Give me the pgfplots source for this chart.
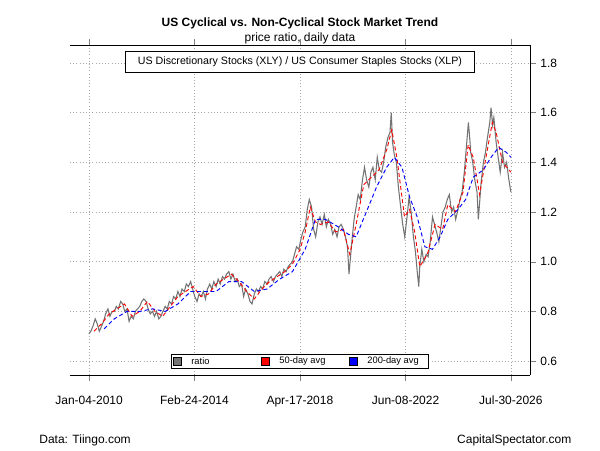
\documentclass[border=0pt]{standalone}
\usepackage{pgfplots}
\pgfplotsset{compat=1.18}
\usepackage{fontspec}
\setmainfont{Liberation Sans}
\begin{document}
\begin{tikzpicture}
\path (0pt,0pt) rectangle (450pt,337.5pt);
\begin{axis}[at={(52.5pt,56.25pt)},anchor=south west,scale only axis,width=345pt,height=247.5pt,
xmin=2009.26,xmax=2027.33,ymin=0.544,ymax=1.872,
axis y line*=right, ytick={0.6,0.8,1.0,1.2,1.4,1.6,1.8},
yticklabel style={/pgf/number format/fixed,/pgf/number format/precision=1,/pgf/number format/fixed zerofill},
xtick={2010.01,2014.15,2018.29,2022.44,2026.58},
xticklabels={Jan-04-2010,Feb-24-2014,Apr-17-2018,Jun-08-2022,Jul-30-2026},
/pgf/number format/assume math mode=true,
tick label style={font=\small},
xticklabel style={yshift=-8pt},
grid=major, grid style={gray!70,dotted}, tick align=outside,
axis line style={black}, clip=true]
\addplot[gray!90!black,line width=0.8pt] coordinates {
(2010.0,0.71)(2010.08,0.72)(2010.16,0.74)(2010.25,0.77)(2010.33,0.75)(2010.41,0.72)(2010.5,0.74)(2010.58,0.76)(2010.66,0.79)(2010.75,0.81)(2010.83,0.78)(2010.91,0.80)
(2011.0,0.80)(2011.08,0.82)(2011.16,0.81)(2011.25,0.84)(2011.33,0.83)(2011.41,0.80)(2011.5,0.81)(2011.58,0.76)(2011.66,0.78)(2011.75,0.77)(2011.83,0.80)(2011.91,0.81)
(2012.0,0.82)(2012.08,0.84)(2012.16,0.85)(2012.25,0.84)(2012.33,0.81)(2012.41,0.79)(2012.5,0.80)(2012.58,0.78)(2012.66,0.80)(2012.75,0.77)(2012.83,0.78)(2012.91,0.80)
(2013.0,0.82)(2013.08,0.81)(2013.16,0.84)(2013.25,0.83)(2013.33,0.86)(2013.41,0.85)(2013.5,0.88)(2013.58,0.86)(2013.66,0.89)(2013.75,0.88)(2013.83,0.91)(2013.91,0.90)
(2014.0,0.92)(2014.08,0.89)(2014.16,0.86)(2014.25,0.84)(2014.33,0.87)(2014.41,0.86)(2014.5,0.88)(2014.58,0.85)(2014.66,0.89)(2014.75,0.91)(2014.83,0.89)(2014.91,0.92)
(2015.0,0.90)(2015.08,0.93)(2015.16,0.91)(2015.25,0.94)(2015.33,0.93)(2015.41,0.95)(2015.5,0.96)(2015.58,0.93)(2015.66,0.95)(2015.75,0.92)(2015.83,0.93)(2015.91,0.90)
(2016.0,0.91)(2016.08,0.86)(2016.16,0.89)(2016.25,0.87)(2016.33,0.84)(2016.41,0.83)(2016.5,0.87)(2016.58,0.89)(2016.66,0.88)(2016.75,0.90)(2016.83,0.89)(2016.91,0.92)
(2017.0,0.91)(2017.08,0.93)(2017.16,0.94)(2017.25,0.92)(2017.33,0.94)(2017.41,0.95)(2017.5,0.96)(2017.58,0.94)(2017.66,0.97)(2017.75,0.96)(2017.83,0.98)(2017.91,0.99)
(2018.0,1.00)(2018.08,1.03)(2018.16,1.06)(2018.25,1.05)(2018.33,1.09)(2018.41,1.12)(2018.5,1.14)(2018.58,1.21)(2018.66,1.25)(2018.75,1.22)(2018.83,1.13)(2018.91,1.10)
(2019.0,1.16)(2019.08,1.18)(2019.16,1.15)(2019.25,1.19)(2019.33,1.14)(2019.41,1.17)(2019.5,1.15)(2019.58,1.11)(2019.66,1.13)(2019.75,1.10)(2019.83,1.14)(2019.91,1.15)
(2020.0,1.13)(2020.08,1.10)(2020.16,1.06)(2020.22,0.95)(2020.28,1.02)(2020.35,1.10)(2020.42,1.17)(2020.5,1.22)(2020.58,1.27)(2020.66,1.25)(2020.75,1.33)(2020.83,1.38)(2020.91,1.33)
(2021.0,1.30)(2021.08,1.36)(2021.16,1.38)(2021.25,1.33)(2021.33,1.42)(2021.41,1.37)(2021.5,1.36)(2021.58,1.40)(2021.66,1.46)(2021.75,1.50)(2021.83,1.52)(2021.88,1.60)(2021.93,1.48)
(2022.0,1.43)(2022.08,1.40)(2022.16,1.30)(2022.25,1.22)(2022.33,1.15)(2022.41,1.10)(2022.5,1.18)(2022.58,1.26)(2022.66,1.20)(2022.75,1.10)(2022.83,1.04)(2022.9,0.96)(2022.96,0.90)
(2023.0,0.98)(2023.08,1.05)(2023.16,1.00)(2023.25,1.03)(2023.33,1.02)(2023.41,1.08)(2023.5,1.18)(2023.58,1.15)(2023.66,1.12)(2023.75,1.08)(2023.83,1.14)(2023.91,1.20)
(2024.0,1.22)(2024.08,1.25)(2024.16,1.27)(2024.25,1.20)(2024.33,1.22)(2024.41,1.17)(2024.5,1.21)(2024.58,1.25)(2024.66,1.28)(2024.75,1.36)(2024.83,1.46)(2024.91,1.56)(2024.96,1.50)
(2025.0,1.44)(2025.08,1.40)(2025.16,1.33)(2025.25,1.28)(2025.3,1.17)(2025.36,1.25)(2025.41,1.32)(2025.5,1.40)(2025.58,1.44)(2025.66,1.50)(2025.75,1.56)(2025.8,1.62)(2025.86,1.55)(2025.91,1.58)
(2026.0,1.48)(2026.08,1.42)(2026.16,1.36)(2026.25,1.44)(2026.33,1.38)(2026.41,1.40)(2026.5,1.33)(2026.58,1.28)};
\addplot[red,densely dashed,line width=0.7pt] coordinates {
(2010.2,0.72)(2010.5,0.75)(2010.8,0.79)(2011.1,0.81)(2011.4,0.83)(2011.7,0.78)(2012.0,0.80)(2012.3,0.84)(2012.6,0.80)(2012.9,0.78)(2013.2,0.82)(2013.5,0.86)(2013.8,0.88)(2014.1,0.90)(2014.4,0.86)(2014.7,0.87)(2015.0,0.91)(2015.3,0.93)(2015.6,0.95)(2015.9,0.92)(2016.2,0.88)(2016.5,0.85)(2016.8,0.89)(2017.1,0.92)(2017.4,0.94)(2017.7,0.96)(2018.0,0.99)(2018.3,1.05)(2018.5,1.12)(2018.7,1.22)(2018.9,1.16)(2019.1,1.15)(2019.4,1.16)(2019.7,1.12)(2020.0,1.13)(2020.25,1.03)(2020.5,1.15)(2020.8,1.31)(2021.1,1.34)(2021.4,1.37)(2021.7,1.45)(2021.9,1.53)(2022.1,1.42)(2022.4,1.18)(2022.6,1.21)(2022.8,1.12)(2023.0,0.98)(2023.3,1.03)(2023.6,1.15)(2023.9,1.13)(2024.1,1.23)(2024.4,1.20)(2024.7,1.28)(2024.9,1.47)(2025.1,1.42)(2025.35,1.27)(2025.6,1.42)(2025.85,1.56)(2026.0,1.52)(2026.25,1.40)(2026.58,1.36)};
\addplot[blue,densely dashed,line width=0.7pt] coordinates {
(2010.6,0.73)(2011.0,0.77)(2011.5,0.80)(2012.0,0.80)(2012.5,0.81)(2013.0,0.80)(2013.5,0.83)(2014.0,0.88)(2014.5,0.88)(2015.0,0.88)(2015.5,0.92)(2016.0,0.92)(2016.5,0.88)(2017.0,0.89)(2017.5,0.93)(2018.0,0.96)(2018.5,1.05)(2018.9,1.17)(2019.3,1.17)(2019.8,1.14)(2020.2,1.11)(2020.5,1.10)(2020.9,1.20)(2021.3,1.30)(2021.7,1.38)(2022.0,1.42)(2022.3,1.38)(2022.6,1.26)(2022.9,1.18)(2023.2,1.06)(2023.5,1.05)(2023.8,1.10)(2024.1,1.17)(2024.5,1.21)(2024.8,1.25)(2025.1,1.34)(2025.5,1.37)(2025.8,1.42)(2026.1,1.46)(2026.4,1.44)(2026.58,1.42)};
\end{axis}
\node[font=\bfseries\small] at (225pt,320pt) {US Cyclical vs. Non-Cyclical Stock Market Trend};
\node[font=\small] at (225pt,308.5pt) {price ratio, daily data};
\node[draw=black,fill=white,font=\footnotesize,minimum width=262pt,minimum height=16pt,inner sep=2pt] at (225pt,291pt) {US Discretionary Stocks (XLY) / US Consumer Staples Stocks (XLP)};
\node[draw=black,fill=white,minimum width=193pt,minimum height=11pt] at (225pt,66.5pt) {};
\fill[gray!90!black,draw=black] (130pt,63.5pt) rectangle (136pt,69.5pt);
\node[font=\scriptsize,anchor=west] at (140pt,66.5pt) {ratio};
\fill[red,draw=black] (196pt,63.5pt) rectangle (202pt,69.5pt);
\node[font=\scriptsize,anchor=west] at (206pt,66.5pt) {50-day avg};
\fill[blue,draw=black] (262pt,63.5pt) rectangle (268pt,69.5pt);
\node[font=\scriptsize,anchor=west] at (272pt,66.5pt) {200-day avg};
\node[font=\small,anchor=west] at (26pt,7.5pt) {Data: Tiingo.com};
\node[font=\small,anchor=east] at (432pt,7.5pt) {CapitalSpectator.com};
\end{tikzpicture}
\end{document}
